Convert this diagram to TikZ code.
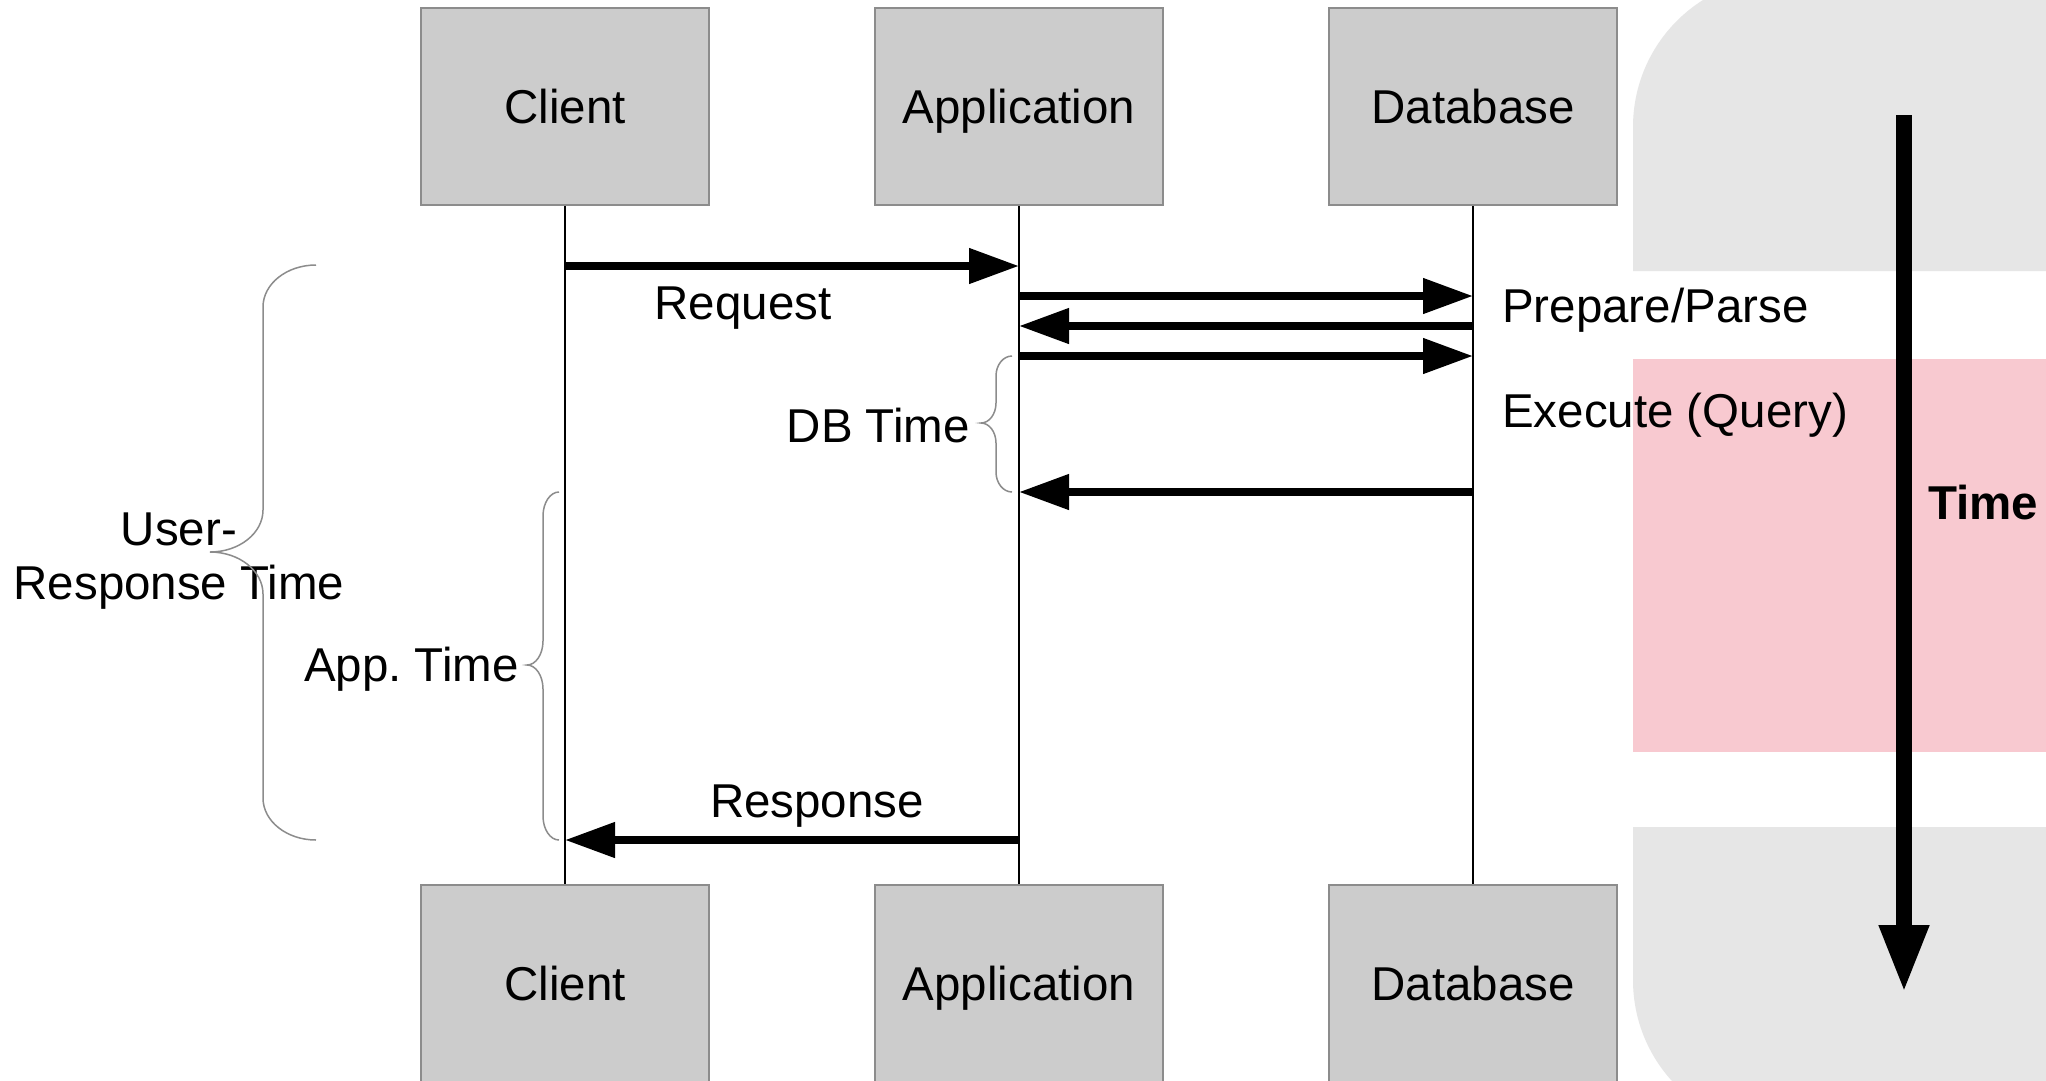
\documentclass[tikz,border=0pt]{standalone}
\usepackage{fontspec}
\setmainfont{Liberation Sans}
\usetikzlibrary{arrows.meta}
\definecolor{boxgrey}{HTML}{CCCCCC}
\definecolor{boxedge}{HTML}{8C8C8C}
\definecolor{bggrey}{HTML}{E6E6E6}
\definecolor{bgpink}{HTML}{F8C9D0}
\definecolor{bracegrey}{HTML}{8C8C8C}
\newcommand\drawbrace[7]{%
  \draw[bracestyle] (#1,#4) .. controls ({#1-0.552*(#1-#2)},#4) and (#2,{#4+0.448*#7}) .. (#2,{#4+#7})
   -- (#2,{#5-#7}) .. controls (#2,{#5-0.448*#7}) and ({#3+0.552*(#2-#3)},#5) .. (#3,#5)
   .. controls ({#3+0.552*(#2-#3)},#5) and (#2,{#5+0.448*#7}) .. (#2,{#5+#7})
   -- (#2,{#6-#7}) .. controls (#2,{#6-0.448*#7}) and ({#1-0.552*(#1-#2)},#6) .. (#1,#6);}
\begin{document}
\begin{tikzpicture}[x=1pt,y=-1pt,
  actor/.style={draw=boxedge, fill=boxgrey, line width=1.5pt, minimum width=288pt,
    minimum height=197pt, inner sep=0pt, text height=34pt, text depth=0pt,
    font=\fontsize{47.5}{54}\selectfont},
  lifeline/.style={line width=1.5pt, black},
  msg/.style={line width=7.7pt, -{Triangle[length=50pt,width=34pt]}},
  timearrow/.style={line width=16pt, -{Triangle[length=68pt,width=46pt]}},
  lbl/.style={inner sep=0pt, font=\fontsize{47.5}{54}\selectfont},
  bracestyle/.style={draw=bracegrey, line width=1.5pt},
]
\useasboundingbox (0,0) rectangle (2046,1080);
\fill[white] (0,0) rectangle (2046,1080);
\clip (0,0) rectangle (2046,1080);
% background panels
\fill[bggrey] (1633,271) -- (1633,127) .. controls (1633,44) and (1700,-23) .. (1783,-23)
  -- (2060,-23) -- (2060,271) -- cycle;
\fill[bgpink] (1633,359) rectangle (2060,752);
\fill[bggrey] (1633,827) -- (1633,980) .. controls (1633,1063) and (1700,1130) .. (1783,1130)
  -- (2060,1130) -- (2060,827) -- cycle;
% actors
\node[actor] (cT) at (565,106.5) {Client};
\node[actor] (aT) at (1019,106.5) {Application};
\node[actor] (dT) at (1473,106.5) {Database};
\node[actor] (cB) at (565,983.5) {Client};
\node[actor] (aB) at (1019,983.5) {Application};
\node[actor] (dB) at (1473,983.5) {Database};
% lifelines
\draw[lifeline] (cT.south) -- (cB.north);
\draw[lifeline] (aT.south) -- (aB.north);
\draw[lifeline] (dT.south) -- (dB.north);
% message points
\coordinate (reqA) at (565,266);  \coordinate (reqB) at (1019,266);
\coordinate (ppA) at (1019,296);  \coordinate (ppB) at (1473,296);
\coordinate (ppbA) at (1473,326); \coordinate (ppbB) at (1019,326);
\coordinate (exA) at (1019,356);  \coordinate (exB) at (1473,356);
\coordinate (exbA) at (1473,492); \coordinate (exbB) at (1019,492);
\coordinate (resA) at (1019,840); \coordinate (resB) at (565,840);
\draw[msg] (reqA) -- (reqB);
\draw[msg] (ppA) -- (ppB);
\draw[msg] (ppbA) -- (ppbB);
\draw[msg] (exA) -- (exB);
\draw[msg] (exbA) -- (exbB);
\draw[msg] (resA) -- (resB);
% labels
\node[lbl, anchor=base] (lreq) at (743,319) {Request};
\node[lbl, anchor=base west] (lpp) at (1502,322) {Prepare/Parse};
\node[lbl, anchor=base west] (lex) at (1502,427) {Execute (Query)};
\node[lbl, anchor=base east] (ldb) at (970,442) {DB Time};
\node[lbl, anchor=base east] (lapp) at (519,681) {App.~Time};
\node[lbl, anchor=base] (lres) at (817,817) {Response};
\node[lbl, anchor=base] (lur1) at (179,545) {User-};
\node[lbl, anchor=base] (lur2) at (179,599) {Response Time};
% braces
\drawbrace{316}{263}{210}{265}{552}{840}{42}
\drawbrace{559}{543}{527}{492}{665}{840}{24}
\drawbrace{1012}{996}{981}{356}{423}{492}{20}
% time arrow
\coordinate (tA) at (1904,115);
\coordinate (tB) at (1904,993);
\draw[timearrow] (tA) -- (tB);
\node[lbl, anchor=base west, font=\fontsize{47.5}{54}\selectfont\bfseries] (ltime) at (1928,519) {Time};
\end{tikzpicture}
\end{document}
